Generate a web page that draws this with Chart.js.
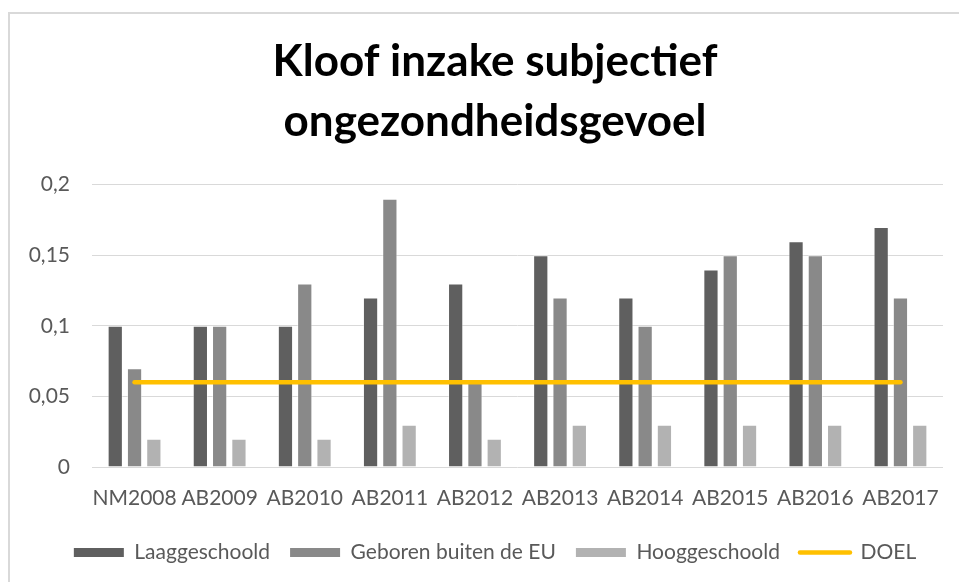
<!DOCTYPE html>
<html>
<head>
<meta charset="utf-8">
<script src="https://cdn.jsdelivr.net/npm/chart.js@4.4.0/dist/chart.umd.min.js"></script>
<style>
  html, body { margin: 0; padding: 0; background: #fff; overflow: hidden; }
  #frame {
    position: absolute; left: 8px; top: 12px;
    width: 970px; height: 580px;
    border: 2px solid #d9d9d9; background: #fff;
  }
  #chart { display: block; }
</style>
</head>
<body>
<div id="frame"><canvas id="chart" width="970" height="568"></canvas></div>
<script>
"use strict";

const categories = ["NM2008", "AB2009", "AB2010", "AB2011", "AB2012", "AB2013", "AB2014", "AB2015", "AB2016", "AB2017"];
const laaggeschoold = [0.10, 0.10, 0.10, 0.12, 0.13, 0.15, 0.12, 0.14, 0.16, 0.17];
const geborenBuitenEU = [0.07, 0.10, 0.13, 0.19, 0.06, 0.12, 0.10, 0.15, 0.15, 0.12];
const hooggeschoold = [0.02, 0.02, 0.02, 0.03, 0.02, 0.03, 0.03, 0.03, 0.03, 0.03];
const doel = [0.06, 0.06, 0.06, 0.06, 0.06, 0.06, 0.06, 0.06, 0.06, 0.06];
const yTickLabels = ["0", "0,05", "0,1", "0,15", "0,2"];

const textGrey = "#595959";
const font = "Lato";

function barSet(label, data, color) {
  return {
    type: "bar",
    label,
    data,
    backgroundColor: color,
    borderColor: "rgba(255,255,255,0.45)",
    borderWidth: 1,
    categoryPercentage: 0.68,
    barPercentage: 0.79,
    order: 1
  };
}

const ctx = document.getElementById("chart").getContext("2d");

new Chart(ctx, {
  data: {
    labels: categories,
    datasets: [
      barSet("Laaggeschoold", laaggeschoold, "#5f5f5f"),
      barSet("Geboren buiten de EU", geborenBuitenEU, "#898989"),
      barSet("Hooggeschoold", hooggeschoold, "#b2b2b2"),
      {
        type: "line",
        label: "DOEL",
        data: doel,
        borderColor: "#ffc000",
        backgroundColor: "#ffc000",
        borderWidth: 4.5,
        borderCapStyle: "round",
        pointRadius: 0,
        order: 0
      }
    ]
  },
  options: {
    responsive: false,
    animation: false,
    layout: { padding: { left: 0, right: 0, top: 0, bottom: 9 } },
    scales: {
      x: {
        offset: true,
        afterFit(scale) { scale.height = 55; },
        grid: { display: false },
        border: { display: false },
        ticks: {
          autoSkip: false,
          maxRotation: 0,
          padding: 11,
          color: textGrey,
          font: { family: font, size: 21 }
        }
      },
      y: {
        min: 0,
        max: 0.2,
        afterFit(scale) { scale.width = 82; },
        border: { display: false },
        grid: { color: "#d9d9d9", lineWidth: 1, drawTicks: false },
        ticks: {
          stepSize: 0.05,
          padding: 22,
          color: textGrey,
          font: { family: font, size: 21 },
          callback: (v, i) => yTickLabels[i]
        }
      },
      yRight: {
        position: "right",
        afterFit(scale) { scale.width = 37; },
        grid: { display: false },
        border: { display: false },
        ticks: { display: false }
      }
    },
    plugins: {
      tooltip: { enabled: false },
      title: {
        display: true,
        text: ["Kloof inzake subjectief", "ongezondheidsgevoel"],
        color: "#000",
        font: { family: font, size: 44, weight: "bold", lineHeight: 1.36 },
        padding: { top: 18, bottom: 33 }
      },
      legend: {
        position: "bottom",
        labels: {
          color: textGrey,
          font: { family: font, size: 21 },
          usePointStyle: true,
          pointStyleWidth: 50,
          boxHeight: 9,
          padding: 20,
          sort: (a, b) => a.datasetIndex - b.datasetIndex,
          generateLabels(chart) {
            const items = Chart.defaults.plugins.legend.labels.generateLabels(chart);
            items.forEach(item => {
              const ds = chart.data.datasets[item.datasetIndex];
              if (ds.type === "line") {
                item.pointStyle = "line";
                item.lineWidth = 4.5;
                item.lineCap = "round";
                item.strokeStyle = "#ffc000";
              } else {
                item.pointStyle = "rect";
                item.lineWidth = 0;
              }
            });
            return items;
          }
        }
      }
    }
  }
});
</script>
</body>
</html>
